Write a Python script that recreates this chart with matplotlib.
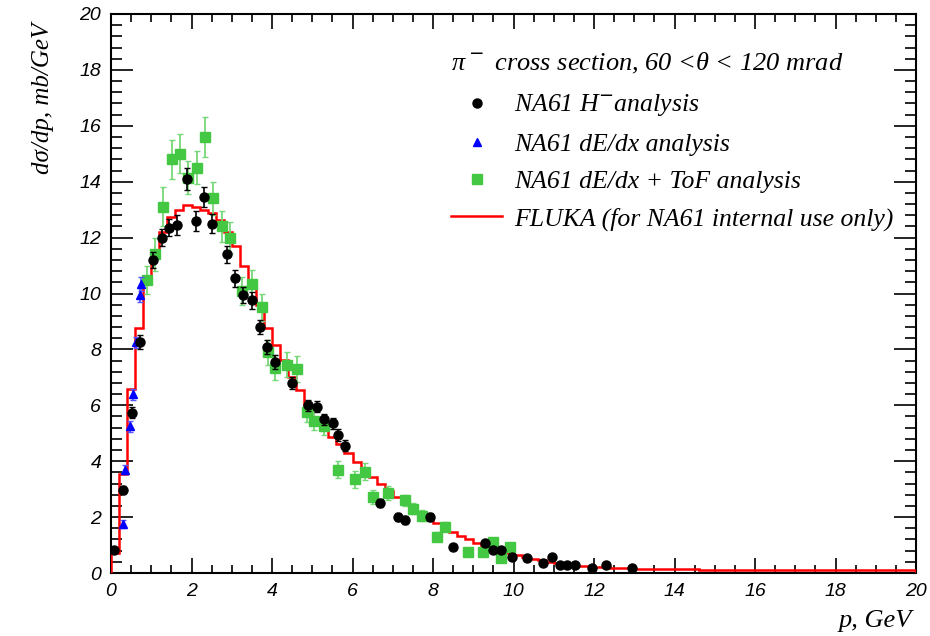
import matplotlib
matplotlib.use('Agg')
import matplotlib.pyplot as plt
import numpy as np
from matplotlib.lines import Line2D
from matplotlib.ticker import MultipleLocator

# FLUKA histogram, 0.2 GeV bins from 0 to 20 GeV
fluka_width = 0.2
fluka = [0.7, 3.55, 6.6, 8.75, 10.4, 11.3, 12.2, 12.75, 13.0, 13.17,
         13.1, 13.0, 12.88, 12.63, 12.2, 11.7, 11.0, 10.4, 9.6, 8.75,
         8.15, 7.62, 7.02, 6.55, 6.0, 5.55, 5.19, 4.88, 4.6, 4.3,
         3.98, 3.7, 3.45, 3.2, 2.95, 2.73, 2.55, 2.35, 2.15, 1.95,
         1.78, 1.62, 1.48, 1.33, 1.2, 1.06, 0.97, 0.87, 0.78, 0.7,
         0.64, 0.57, 0.51, 0.45, 0.4, 0.35, 0.32, 0.29, 0.26, 0.24,
         0.22, 0.2, 0.19, 0.18, 0.17, 0.16, 0.15, 0.15, 0.14, 0.14,
         0.13, 0.13, 0.13, 0.12, 0.12, 0.12, 0.12, 0.11, 0.11, 0.11,
         0.11, 0.11, 0.1, 0.1, 0.1, 0.1, 0.1, 0.1, 0.1, 0.1,
         0.1, 0.1, 0.1, 0.1, 0.1, 0.1, 0.1, 0.1, 0.1, 0.1]

# NA61 h- analysis
hm_p = [0.07, 0.31, 0.51, 0.72, 1.05, 1.27, 1.45, 1.65, 1.88, 2.1,
        2.3, 2.5, 2.88, 3.08, 3.29, 3.5, 3.7, 3.87, 4.08, 4.49,
        4.9, 5.11, 5.3, 5.52, 5.64, 5.81, 6.68, 7.13, 7.3, 7.93,
        8.5, 9.3, 9.5, 9.7, 9.96, 10.33, 10.73, 10.95, 11.16, 11.32,
        11.53, 11.94, 12.3, 12.94]
hm_y = [0.82, 2.97, 5.73, 8.25, 11.2, 12.0, 12.35, 12.45, 14.1, 12.6,
        13.45, 12.5, 11.4, 10.55, 9.95, 9.75, 8.8, 8.1, 7.55, 6.8,
        6.0, 5.95, 5.5, 5.35, 4.94, 4.55, 2.5, 2.01, 1.9, 2.0,
        0.94, 1.06, 0.82, 0.82, 0.58, 0.53, 0.35, 0.58, 0.29, 0.29,
        0.29, 0.18, 0.29, 0.18]
hm_err = [0.1, 0.15, 0.2, 0.25, 0.3, 0.3, 0.3, 0.35, 0.4, 0.35,
          0.35, 0.35, 0.3, 0.3, 0.3, 0.3, 0.25, 0.25, 0.25, 0.2,
          0.2, 0.2, 0.2, 0.2, 0.2, 0.2, 0.15, 0.15, 0.15, 0.15,
          0.1, 0.1, 0.1, 0.1, 0.1, 0.08, 0.08, 0.08, 0.06, 0.06,
          0.06, 0.05, 0.05, 0.05]

# NA61 dE/dx analysis
dedx_p = [0.3, 0.35, 0.47, 0.55, 0.63, 0.72, 0.75]
dedx_y = [1.75, 3.7, 5.25, 6.4, 8.25, 9.95, 10.35]
dedx_err = [0.15, 0.15, 0.2, 0.2, 0.2, 0.25, 0.25]

# NA61 dE/dx + ToF analysis
tof_p = [0.89, 1.09, 1.3, 1.51, 1.71, 1.92, 2.13, 2.33, 2.54, 2.75,
         2.96, 3.25, 3.5, 3.74, 3.91, 4.07, 4.37, 4.61, 4.86, 5.05,
         5.3, 5.65, 6.06, 6.31, 6.52, 6.89, 7.3, 7.5, 7.72, 8.09,
         8.3, 8.88, 9.25, 9.5, 9.7, 9.91]
tof_y = [10.5, 11.4, 13.1, 14.8, 15.0, 14.15, 14.5, 15.6, 13.4, 12.4,
         12.0, 10.1, 10.35, 9.5, 7.9, 7.35, 7.45, 7.3, 5.75, 5.45,
         5.25, 3.7, 3.35, 3.62, 2.73, 2.85, 2.6, 2.3, 2.05, 1.3,
         1.66, 0.76, 0.76, 1.12, 0.52, 0.94]
tof_err = [0.5, 0.6, 0.7, 0.7, 0.7, 0.6, 0.6, 0.7, 0.6, 0.55,
           0.55, 0.5, 0.5, 0.5, 0.45, 0.45, 0.45, 0.45, 0.35, 0.35,
           0.3, 0.3, 0.3, 0.3, 0.25, 0.25, 0.2, 0.2, 0.2, 0.15,
           0.15, 0.15, 0.15, 0.15, 0.1, 0.1]

serif = ['Liberation Serif', 'DejaVu Serif']

fig = plt.figure(figsize=(9.3, 6.36), dpi=100)
ax = fig.add_axes([111/930, 1 - 573/636, (916 - 111)/930, (573 - 14)/636])

edges = np.arange(len(fluka) + 1) * fluka_width
ax.stairs(fluka, edges, color='#ff0000', lw=1.8, zorder=3)

ax.errorbar(tof_p, tof_y, yerr=tof_err, fmt='s', ms=7, color='#44c844',
            ecolor='#77d877', elinewidth=1.3, capsize=2.5, zorder=3)
ax.errorbar(dedx_p, dedx_y, yerr=dedx_err, fmt='^', ms=6, color='#0000ff',
            ecolor='#5555ff', elinewidth=1.2, capsize=2, zorder=4)
ax.errorbar(hm_p, hm_y, yerr=hm_err, fmt='o', ms=6.5, color='black',
            ecolor='black', elinewidth=1.2, capsize=2.5, zorder=5)

ax.set_xlim(0, 20)
ax.set_ylim(0, 20)
ax.xaxis.set_major_locator(MultipleLocator(2))
ax.xaxis.set_minor_locator(MultipleLocator(0.5))
ax.yaxis.set_major_locator(MultipleLocator(2))
ax.yaxis.set_minor_locator(MultipleLocator(0.4))
ax.tick_params(which='both', direction='in', top=True, right=True, width=1.2)
ax.tick_params(axis='x', which='major', length=11, pad=7)
ax.tick_params(axis='x', which='minor', length=5.5)
ax.tick_params(axis='y', which='major', length=16, pad=7)
ax.tick_params(axis='y', which='minor', length=8)
for lab in ax.get_xticklabels() + ax.get_yticklabels():
    lab.set_fontstyle('italic')
    lab.set_fontfamily('Liberation Sans')
    lab.set_fontsize(14)
for s in ax.spines.values():
    s.set_linewidth(1.5)

fig.text(0.046, 0.965, 'dσ/dp, mb/GeV', rotation=90, ha='center', va='top',
         fontsize=18, style='italic', family=serif)
fig.text(912/930, 1 - 621/636, 'p, GeV', ha='right', va='center',
         fontsize=19, style='italic', family=serif)

handles = [
    Line2D([], [], marker='o', ls='none', color='black', ms=6.5),
    Line2D([], [], marker='^', ls='none', color='#0000ff', ms=6),
    Line2D([], [], marker='s', ls='none', color='#44c844', ms=6.5),
    Line2D([], [], color='#ff0000', lw=1.8),
]
labels = ['NA61 H$^{-}$analysis', 'NA61 dE/dx analysis',
          'NA61 dE/dx + ToF analysis', 'FLUKA (for NA61 internal use only)']
leg = fig.legend(handles, labels, loc='upper left',
                 bbox_to_anchor=(438/930, 1 - 38/636),
                 title='π$^-$ cross section, 60 <θ < 120 mrad',
                 frameon=False, borderpad=0, handlelength=2.0,
                 handletextpad=0.45, labelspacing=0.55,
                 prop={'family': serif, 'style': 'italic', 'size': 18.5},
                 alignment='left')
leg.get_title().set_fontfamily(serif)
leg.get_title().set_fontstyle('italic')
leg.get_title().set_fontsize(19)
leg._legend_box.sep = 12

fig.savefig('out.png', dpi=100)
